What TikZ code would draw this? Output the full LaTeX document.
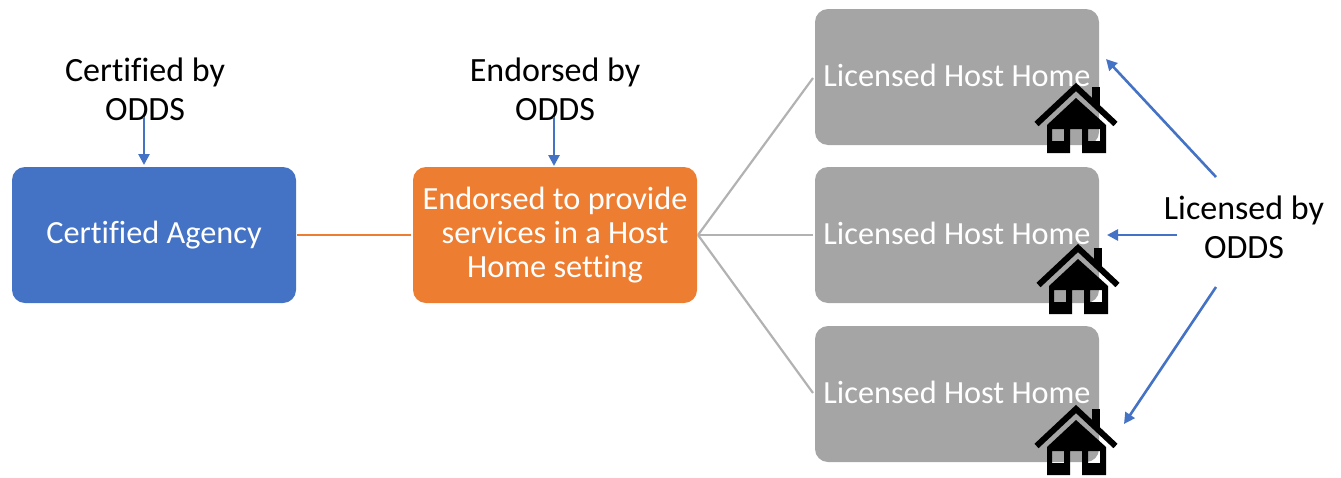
\documentclass[tikz,border=0pt]{standalone}
\usepackage{fontspec}
\setmainfont[Ligatures=NoCommon]{Carlito}
\usetikzlibrary{arrows.meta}
\definecolor{bluebox}{HTML}{4472C4}
\definecolor{orangebox}{HTML}{ED7D31}
\definecolor{graybox}{HTML}{A5A5A5}
\tikzset{
  x=1pt,y=-1pt,
  boxbase/.style={rounded corners=13pt,minimum width=284pt,minimum height=136pt,inner sep=2pt,align=center,text=white,font=\fontsize{32.3}{34}\selectfont},
  agencybox/.style={boxbase,fill=bluebox},
  endorsedbox/.style={boxbase,fill=orangebox},
  hostbox/.style={boxbase,fill=graybox},
  caption/.style={align=center,text=black,font=\fontsize{34}{39}\selectfont,inner sep=0pt},
  bluearrow/.style={draw=bluebox,line width=2.6pt,-{Triangle[length=11pt,width=11pt]}},
  orangeline/.style={draw=orangebox,line width=2pt},
  grayline/.style={draw=graybox!85!white,line width=2.2pt},
  pics/house/.style={code={
    \draw[black,line width=6pt,line cap=butt] (-39.5,36) -- (0,-1) -- (39.5,36);
    \fill[black] (16,-1) rectangle (24,18);
    \fill[black,even odd rule]
      (-29,37) -- (0,10) -- (30,37) -- (30,65) -- (6,65) -- (6,41) -- (-6,41) -- (-6,65) -- (-29,65) -- cycle
      (-24,41) rectangle (-12,53)
      (12,41) rectangle (24,53);
  }}
}
\newcommand{\hosttext}{\raisebox{3pt}{Licensed Host Home}}
\begin{document}
\begin{tikzpicture}
\useasboundingbox (0,0) rectangle (1341,477);
\node[agencybox] (agency) at (154,235) {Certified Agency};
\node[endorsedbox] (endorsed) at (555,235) {Endorsed to provide\\services in a Host\\Home setting};
\node[hostbox] (hostA) at (957,77) {\hosttext};
\node[hostbox] (hostB) at (957,235) {\hosttext};
\node[hostbox] (hostC) at (957,394) {\hosttext};
\node[caption] (certified) at (145,89) {Certified by\\ODDS};
\node[caption] (endorsedby) at (555,89) {Endorsed by\\ODDS};
\node[caption] (licensed) at (1244,227) {Licensed by\\ODDS};
\pic at (1076,88) {house};
\pic at (1078,249) {house};
\pic at (1076,410) {house};
\coordinate (certTail) at (144,117);
\coordinate (certHead) at (144,165);
\coordinate (endTail) at (554,117);
\coordinate (endHead) at (554,166);
\coordinate (licA) at (1216,177);
\coordinate (headA) at (1106,59);
\coordinate (licB) at (1177,235);
\coordinate (headB) at (1107,235);
\coordinate (licC) at (1216,287);
\coordinate (headC) at (1124,424);
\draw[bluearrow] (certTail) -- (certHead);
\draw[bluearrow] (endTail) -- (endHead);
\draw[bluearrow] (licA) -- (headA);
\draw[bluearrow] (licB) -- (headB);
\draw[bluearrow] (licC) -- (headC);
\coordinate (agencyEnd) at (297,235);
\coordinate (endorsedStart) at (411,235);
\draw[orangeline] (agencyEnd) -- (endorsedStart);
\coordinate (fan) at (698,235);
\coordinate (fanA) at (813,78);
\coordinate (fanB) at (813,235);
\coordinate (fanC) at (813,393);
\draw[grayline] (fan) -- (fanA);
\draw[grayline] (fan) -- (fanB);
\draw[grayline] (fan) -- (fanC);
\end{tikzpicture}
\end{document}
